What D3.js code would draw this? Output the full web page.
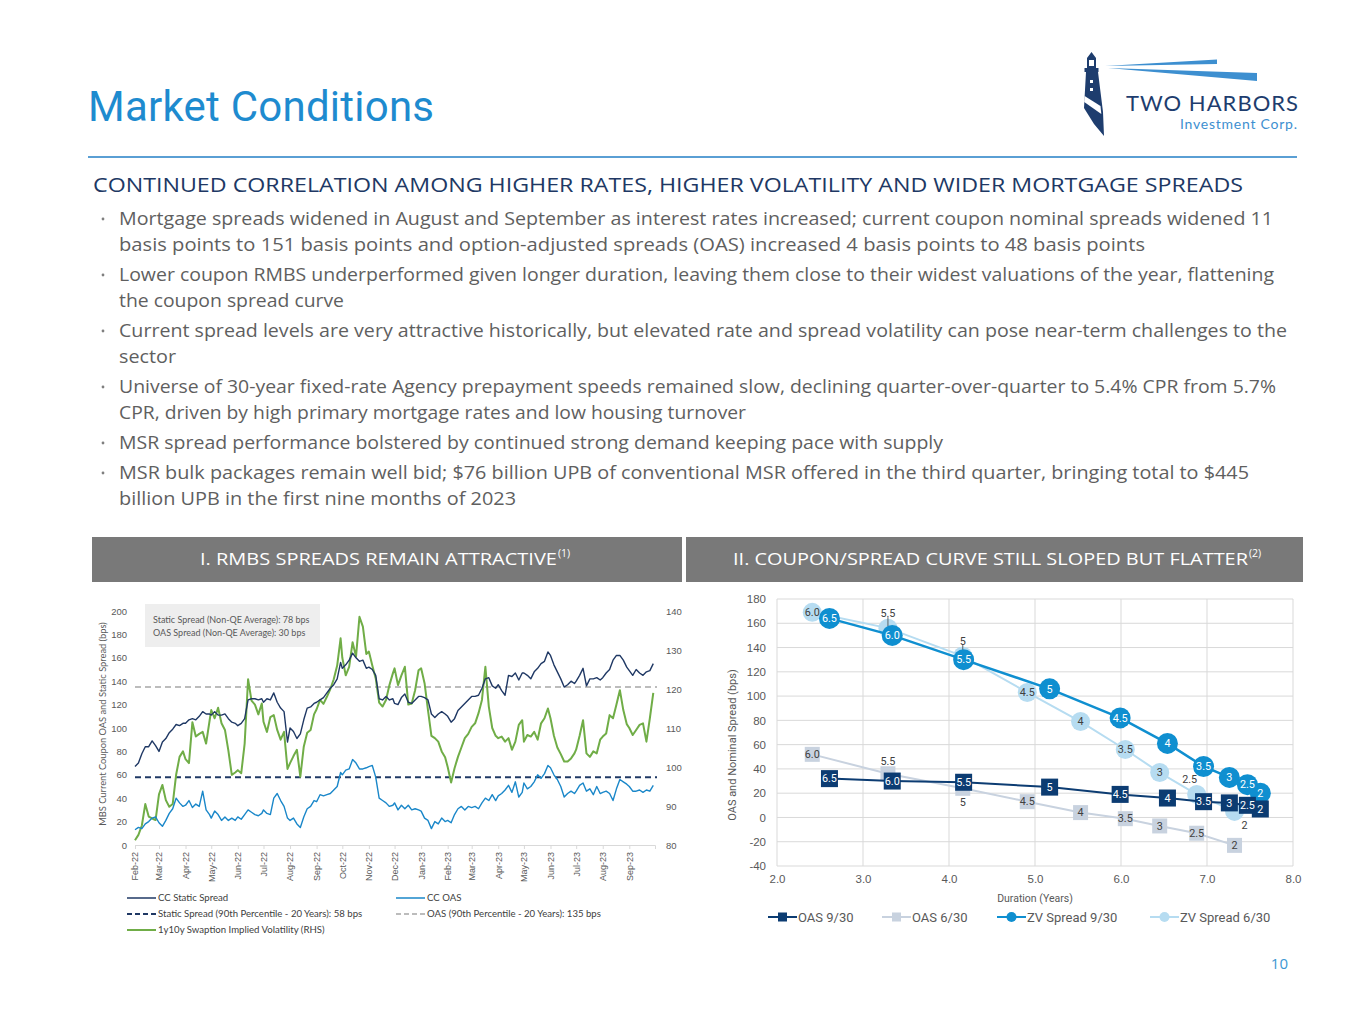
<!DOCTYPE html>
<html>
<head>
<meta charset="utf-8">
<script src="https://cdn.jsdelivr.net/npm/d3@7/dist/d3.min.js"></script>
<style>
  body { margin: 0; background: #fff; }
  svg { display: block; }
</style>
</head>
<body>
<div id="slide"></div>
<script>
// ---------- left chart data (sampled on days 1,5,9,...,29 of each month) ----------
var months = ["2022-02","2022-03","2022-04","2022-05","2022-06","2022-07","2022-08","2022-09","2022-10","2022-11",
              "2022-12","2023-01","2023-02","2023-03","2023-04","2023-05","2023-06","2023-07","2023-08","2023-09"];
var sampleDays = [1, 5, 9, 13, 17, 21, 25, 29];

var staticSpread = [
  67, 70, 78, 84, 84, 89, 85,
  80, 88, 91, 96, 99, 103, 102, 104,
  104, 107, 108, 107, 110, 114, 112, 112,
  111, 114, 111, 111, 112, 108, 105, 104,
  102, 104, 108, 124, 125, 125, 124, 125,
  122, 125, 124, 130, 122, 117, 114, 88,
  100, 97, 91, 95, 107, 117, 118, 121,
  122, 124, 126, 130, 134, 137, 142, 156,
  151, 154, 158, 164, 160, 157, 158, 151,
  152, 150, 145, 125, 124, 127, 124, 125,
  121, 120, 126, 129, 122, 121, 124, 127,
  127, 126, 124, 112, 109, 112, 114, 112,
  110, 105, 108, 115, 118, 121, 124,
  127, 127, 128, 134, 142, 143, 136, 134,
  137, 132, 128, 145, 144, 147, 141, 147,
  147, 145, 142, 148, 151, 155, 157, 165,
  162, 154, 148, 142, 135, 137, 140, 138,
  140, 145, 151, 136, 142, 142, 143, 141,
  143, 147, 150, 158, 162, 162, 158, 152,
  149, 145, 150, 147, 145, 148, 149, 155
];
var ccOas = [
  13, 15, 14, 18, 20, 23, 24,
  19, 16, 21, 27, 31, 40, 36, 33,
  34, 38, 32, 35, 33, 46, 30, 26,
  23, 29, 26, 21, 24, 21, 23, 21,
  24, 22, 26, 30, 28, 26, 25, 27,
  30, 27, 26, 40, 44, 38, 33, 23,
  21, 23, 18, 15, 24, 31, 33, 38,
  37, 43, 42, 43, 44, 47, 50, 62,
  60, 64, 65, 73, 70, 65, 65, 66,
  67, 68, 58, 40, 38, 36, 33, 34,
  36, 30, 34, 31, 34, 30, 31, 30,
  29, 23, 21, 14, 20, 18, 23, 20,
  21, 19, 26, 31, 33, 30, 33,
  32, 33, 31, 36, 40, 38, 43, 38,
  42, 44, 47, 51, 45, 54, 41, 45,
  53, 48, 50, 54, 60, 57, 61, 68,
  66, 60, 56, 50, 41, 44, 46, 44,
  46, 51, 53, 46, 48, 43, 50, 44,
  45, 46, 44, 38, 48, 56, 54, 52,
  50, 46, 46, 47, 45, 47, 46, 51
];
var swaptionVol = [
  81.2, 82.6, 85, 90.5, 87.3, 86.8, 86.4,
  93, 95.4, 91.5, 89.8, 90.5, 98, 102.6, 104,
  102, 101, 111.5, 107.8, 108.5, 109, 106, 111.8,
  114.6, 112.5, 115.2, 111.2, 109.5, 104.2, 98, 98.6,
  99.2, 98.4, 106, 122.5, 117, 116, 113.5, 116.3,
  111.6, 109, 112.8, 113.3, 109.5, 107, 109, 99.5,
  101, 102.8, 104.4, 97.5, 105.2, 108.8, 109.5, 113.5,
  114.8, 117.2, 116.2, 118, 120, 122.5, 126, 133,
  128, 123.5, 125.7, 132, 128.3, 138.5, 136, 129,
  129.6, 126, 122.7, 116.5, 115.5, 117.2, 121, 124,
  125.3, 121, 123.5, 125.7, 116, 116.3, 119.7, 124.8,
  125.3, 121.5, 114.6, 108, 107.4, 106.5, 104, 102.5,
  100, 96, 99.7, 102.6, 105, 107.4, 108.5,
  110.3, 111.2, 113.8, 117.2, 125.7, 115.5, 110, 108,
  107.4, 107.8, 106.5, 107.4, 104.4, 106.5, 110.8, 112,
  106.5, 108.2, 107.8, 109, 107, 111.2, 112.5, 115,
  112.5, 108, 105, 103.3, 101.4, 101.4, 102.2, 103.5,
  104.5, 108, 112, 103.5, 102.6, 104, 103.5, 107,
  107.8, 108.6, 113.3, 112.5, 116, 119.7, 114.6, 111,
  110, 108.2, 109.5, 110.8, 111.2, 106.5, 112.5, 119
];
var staticP90 = 58;
var oasP90 = 135;
var leftTicks = [0, 20, 40, 60, 80, 100, 120, 140, 160, 180, 200];
var rightTicks = [80, 90, 100, 110, 120, 130, 140];

// ---------- right chart data ----------
var coupons930 = ["6.5", "6.0", "5.5", "5", "4.5", "4", "3.5", "3", "2.5", "2"];
var dur930 = [2.61, 3.34, 4.17, 5.17, 5.99, 6.54, 6.96, 7.26, 7.47, 7.62];
var zv930 = [164, 150, 130, 106, 82, 61, 42, 33, 27, 20];
var oas930 = [32, 30, 29, 25, 19, 16, 13, 12, 10, 7];
var coupons630 = ["6.0", "5.5", "5", "4.5", "4", "3.5", "3", "2.5", "2"];
var dur630 = [2.41, 3.29, 4.16, 4.91, 5.53, 6.05, 6.45, 6.88, 7.32];
var zv630 = [169, 156, 133, 103, 79, 56, 37, 19, 5];
var oas630 = [52, 36, 24, 13, 4, -1, -7, -13, -23];
var spreadTicks = [-40, -20, 0, 20, 40, 60, 80, 100, 120, 140, 160, 180];
var durationTicks = [2, 3, 4, 5, 6, 7, 8];

// ---------- slide text ----------
var bullets = [
  ["Mortgage spreads widened in August and September as interest rates increased; current coupon nominal spreads widened 11",
   "basis points to 151 basis points and option-adjusted spreads (OAS) increased 4 basis points to 48 basis points"],
  ["Lower coupon RMBS underperformed given longer duration, leaving them close to their widest valuations of the year, flattening",
   "the coupon spread curve"],
  ["Current spread levels are very attractive historically, but elevated rate and spread volatility can pose near-term challenges to the",
   "sector"],
  ["Universe of 30-year fixed-rate Agency prepayment speeds remained slow, declining quarter-over-quarter to 5.4% CPR from 5.7%",
   "CPR, driven by high primary mortgage rates and low housing turnover"],
  ["MSR spread performance bolstered by continued strong demand keeping pace with supply"],
  ["MSR bulk packages remain well bid; $76 billion UPB of conventional MSR offered in the third quarter, bringing total to $445",
   "billion UPB in the first nine months of 2023"]
];
var lineWidths = [[1154, 1026], [1155, 225], [1168, 57], [1157, 627], [824], [1130, 397]];
var bulletTops = [225, 281, 337, 393, 449, 479];

var bodyFont = "'Open Sans', 'Noto Sans', sans-serif";

var svg = d3.select("#slide").append("svg")
    .attr("width", 1365)
    .attr("height", 1024)
    .style("font-family", bodyFont);

// ---------- header ----------
svg.append("text")
    .attr("x", 88).attr("y", 121)
    .attr("font-family", "Roboto, sans-serif")
    .attr("font-size", 42)
    .attr("fill", "#1e8bcf")
    .attr("textLength", 346)
    .text("Market Conditions");

svg.append("line")
    .attr("x1", 88).attr("x2", 1297).attr("y1", 157).attr("y2", 157)
    .attr("stroke", "#5a9fd4").attr("stroke-width", 2);

svg.append("text")
    .attr("x", 93).attr("y", 192)
    .attr("font-size", 19.5)
    .attr("fill", "#203864")
    .attr("textLength", 1150)
    .attr("lengthAdjust", "spacingAndGlyphs")
    .text("CONTINUED CORRELATION AMONG HIGHER RATES, HIGHER VOLATILITY AND WIDER MORTGAGE SPREADS");

// logo
var logo = svg.append("g");
logo.append("path")
    .attr("d", "M1105,66 L1217,59.5 L1217,64 Z")
    .attr("fill", "#3d8fd0");
logo.append("path")
    .attr("d", "M1108,68 L1257,73 L1257,81 Z")
    .attr("fill", "#3d8fd0");
logo.append("path")
    .attr("d", "M1091.5,52 L1096,58 L1087,58 Z M1087,58 L1096,58 L1096,68 L1087,68 Z M1084.5,68 L1098.5,68 L1098.5,72 L1084.5,72 Z M1086,72 L1098,72 L1103,112 L1104,136 L1094,124 L1084,108 Z")
    .attr("fill", "#1e3d6e");
logo.append("path")
    .attr("d", "M1084.6,96 L1100.5,106 L1101.3,114 L1084.2,102 Z")
    .attr("fill", "#fff");
logo.append("rect").attr("x", 1089).attr("y", 60).attr("width", 5).attr("height", 6).attr("fill", "#fff");
logo.append("rect").attr("x", 1090).attr("y", 80).attr("width", 3).attr("height", 3).attr("fill", "#fff");
logo.append("rect").attr("x", 1090).attr("y", 88).attr("width", 3).attr("height", 3).attr("fill", "#fff");
logo.append("text")
    .attr("x", 1126).attr("y", 111)
    .attr("font-family", "Lato, sans-serif")
    .attr("font-size", 22)
    .attr("fill", "#1e3d6e")
    .attr("textLength", 172)
    .attr("lengthAdjust", "spacing")
    .text("TWO HARBORS");
logo.append("text")
    .attr("x", 1180).attr("y", 129)
    .attr("font-family", "Lato, sans-serif")
    .attr("font-size", 14)
    .attr("fill", "#3d8fd0")
    .attr("textLength", 117)
    .attr("lengthAdjust", "spacing")
    .text("Investment Corp.");

// bullets
bullets.forEach(function(lines, i) {
  svg.append("circle")
      .attr("cx", 103).attr("cy", bulletTops[i] - 6).attr("r", 1.4)
      .attr("fill", "#7f7f7f");
  lines.forEach(function(line, j) {
    svg.append("text")
        .attr("x", 119).attr("y", bulletTops[i] + j * 26)
        .attr("font-size", 17.5)
        .attr("fill", "#5f5f5f")
        .attr("textLength", lineWidths[i][j])
        .attr("lengthAdjust", "spacingAndGlyphs")
        .text(line);
  });
});

// panel headers
function panelHeader(x, w, label, sup, textX, textW) {
  svg.append("rect").attr("x", x).attr("y", 537).attr("width", w).attr("height", 45).attr("fill", "#797979");
  var t = svg.append("text").attr("x", textX).attr("y", 565).attr("font-size", 15.5).attr("fill", "#fff");
  t.append("tspan").attr("textLength", textW).attr("lengthAdjust", "spacingAndGlyphs").text(label);
  t.append("tspan").attr("font-size", 10.5).attr("dy", -8).attr("dx", 1).text(sup);
}
panelHeader(92, 590, "I. RMBS SPREADS REMAIN ATTRACTIVE", "(1)", 200, 357);
panelHeader(686, 617, "II. COUPON/SPREAD CURVE STILL SLOPED BUT FLATTER", "(2)", 733, 515);

// page number
svg.append("text").attr("x", 1288).attr("y", 969).attr("text-anchor", "end")
    .attr("font-size", 15).attr("fill", "#3c97d3").text("10");

// ---------- left chart ----------
var parseDay = d3.timeParse("%Y-%m-%d");
var dates = [];
months.forEach(function(m) {
  sampleDays.forEach(function(d) {
    if (m.slice(5) === "02" && d > 28) return;
    dates.push(parseDay(m + "-" + (d < 10 ? "0" + d : d)));
  });
});
var monthStarts = months.map(function(m) { return parseDay(m + "-01"); });

var left = svg.append("g").style("font-family", "Lato, 'Open Sans', sans-serif");

var xL = d3.scaleTime()
    .domain([parseDay("2022-02-01"), parseDay("2023-10-01")])
    .range([135, 655]);
var yL = d3.scaleLinear().domain([0, 200]).range([845, 611]);
var yR = d3.scaleLinear().domain([80, 140]).range([845, 611]);

var gyl = left.append("g").attr("transform", "translate(131,0)")
    .call(d3.axisLeft(yL).tickValues(leftTicks).tickSize(0).tickPadding(4));
gyl.select(".domain").remove();
gyl.selectAll("text").attr("font-size", 9.5).attr("fill", "#595959");

var gyr = left.append("g").attr("transform", "translate(661,0)")
    .call(d3.axisRight(yR).tickValues(rightTicks).tickSize(0).tickPadding(5));
gyr.select(".domain").remove();
gyr.selectAll("text").attr("font-size", 9.5).attr("fill", "#595959");

var gxl = left.append("g").attr("transform", "translate(0,845)")
    .call(d3.axisBottom(xL).tickValues(monthStarts).tickSize(4).tickSizeOuter(4)
      .tickFormat(d3.timeFormat("%b-%y")));
gxl.select(".domain").attr("stroke", "#d9d9d9");
gxl.selectAll("line").attr("stroke", "#d9d9d9");
gxl.selectAll("text")
    .attr("transform", "rotate(-90)")
    .attr("text-anchor", "end")
    .attr("x", -7).attr("y", 0).attr("dy", "0.32em")
    .attr("font-size", 9).attr("fill", "#595959");

left.append("text")
    .attr("transform", "translate(106,724) rotate(-90)")
    .attr("text-anchor", "middle")
    .attr("font-size", 9.3).attr("fill", "#595959")
    .text("MBS Current Coupon OAS and Static Spread (bps)");

left.append("rect").attr("x", 145).attr("y", 604).attr("width", 175).attr("height", 43).attr("fill", "#eeeeee");
left.append("text").attr("x", 153).attr("y", 623).attr("font-size", 9).attr("fill", "#595959")
    .text("Static Spread (Non-QE Average): 78 bps");
left.append("text").attr("x", 153).attr("y", 636).attr("font-size", 9).attr("fill", "#595959")
    .text("OAS Spread (Non-QE Average): 30 bps");

// percentile lines
left.append("line")
    .attr("x1", xL.range()[0]).attr("x2", xL.range()[1] + 2)
    .attr("y1", yL(oasP90)).attr("y2", yL(oasP90))
    .attr("stroke", "#a6a6a6").attr("stroke-width", 1.5).attr("stroke-dasharray", "6,4");
left.append("line")
    .attr("x1", xL.range()[0]).attr("x2", xL.range()[1] + 2)
    .attr("y1", yL(staticP90)).attr("y2", yL(staticP90))
    .attr("stroke", "#1f3864").attr("stroke-width", 2).attr("stroke-dasharray", "6,4");

var lineLeft = d3.line()
    .x(function(d, i) { return xL(dates[i]); })
    .y(function(d) { return yL(d); });
var lineRight = d3.line()
    .x(function(d, i) { return xL(dates[i]); })
    .y(function(d) { return yR(d); });

left.append("path").attr("d", lineRight(swaptionVol))
    .attr("fill", "none").attr("stroke", "#70ad47").attr("stroke-width", 2).attr("stroke-linejoin", "round");
left.append("path").attr("d", lineLeft(staticSpread))
    .attr("fill", "none").attr("stroke", "#1f3864").attr("stroke-width", 1.4).attr("stroke-linejoin", "round");
left.append("path").attr("d", lineLeft(ccOas))
    .attr("fill", "none").attr("stroke", "#1a87c9").attr("stroke-width", 1.4).attr("stroke-linejoin", "round");

// legend
var leftLegend = [
  { label: "CC Static Spread", color: "#1f3864", dash: null, w: 1.5, x: 127, y: 898 },
  { label: "CC OAS", color: "#1a87c9", dash: null, w: 1.5, x: 396, y: 898 },
  { label: "Static Spread (90th Percentile - 20 Years): 58 bps", color: "#1f3864", dash: "5,3", w: 2, x: 127, y: 914 },
  { label: "OAS (90th Percentile - 20 Years): 135 bps", color: "#a6a6a6", dash: "5,3", w: 1.5, x: 396, y: 914 },
  { label: "1y10y Swaption Implied Volatility (RHS)", color: "#70ad47", dash: null, w: 2, x: 127, y: 930 }
];
var lg = left.selectAll("g.lleg").data(leftLegend).enter().append("g").attr("class", "lleg")
    .attr("transform", function(d) { return "translate(" + d.x + "," + d.y + ")"; });
lg.append("line").attr("x1", 0).attr("x2", 29).attr("y1", 0).attr("y2", 0)
    .attr("stroke", function(d) { return d.color; })
    .attr("stroke-width", function(d) { return d.w; })
    .attr("stroke-dasharray", function(d) { return d.dash; });
lg.append("text").attr("x", 31).attr("y", 3.3).attr("font-size", 9.6).attr("fill", "#404040")
    .text(function(d) { return d.label; });

// ---------- right chart ----------
var right = svg.append("g").style("font-family", "Roboto, sans-serif");
var xS = d3.scaleLinear().domain([2, 8]).range([777, 1293]);
var yS = d3.scaleLinear().domain([-40, 180]).range([866, 599]);

right.selectAll("line.hg").data(spreadTicks).enter().append("line").attr("class", "hg")
    .attr("x1", xS(2)).attr("x2", xS(8))
    .attr("y1", function(d) { return yS(d); }).attr("y2", function(d) { return yS(d); })
    .attr("stroke", "#d9d9d9").attr("stroke-width", 1);
right.selectAll("line.vg").data(durationTicks).enter().append("line").attr("class", "vg")
    .attr("x1", function(d) { return xS(d); }).attr("x2", function(d) { return xS(d); })
    .attr("y1", yS(180)).attr("y2", yS(-40))
    .attr("stroke", "#d9d9d9").attr("stroke-width", 1);

var gys = right.append("g").attr("transform", "translate(" + xS(2) + ",0)")
    .call(d3.axisLeft(yS).tickValues(spreadTicks).tickSize(0).tickPadding(11)
      .tickFormat(function(d) { return String(d); }));
gys.select(".domain").remove();
gys.selectAll("text").attr("font-size", 11.5).attr("fill", "#595959");

var gxs = right.append("g").attr("transform", "translate(0," + yS(-40) + ")")
    .call(d3.axisBottom(xS).tickValues(durationTicks).tickFormat(d3.format(".1f")).tickSize(0).tickPadding(9));
gxs.select(".domain").remove();
gxs.selectAll("text").attr("font-size", 11.5).attr("fill", "#595959");

right.append("text").attr("x", 1035).attr("y", 902).attr("text-anchor", "middle")
    .attr("font-size", 10.5).attr("fill", "#595959").text("Duration (Years)");
right.append("text")
    .attr("transform", "translate(736,745) rotate(-90)")
    .attr("text-anchor", "middle")
    .attr("font-size", 11).attr("fill", "#595959")
    .text("OAS and Nominal Spread (bps)");

var series = [
  { name: "OAS 6/30", dur: dur630, val: oas630, labels: coupons630, color: "#c8d2df", shape: "square", size: 15, lw: 2, text: "#404040" },
  { name: "ZV Spread 6/30", dur: dur630, val: zv630, labels: coupons630, color: "#b6dcf1", shape: "circle", size: 19, lw: 2, text: "#404040" },
  { name: "ZV Spread 9/30", dur: dur930, val: zv930, labels: coupons930, color: "#0f8fd0", shape: "circle", size: 21, lw: 2.5, text: "#ffffff" },
  { name: "OAS 9/30", dur: dur930, val: oas930, labels: coupons930, color: "#0c3c72", shape: "square", size: 17, lw: 2, text: "#ffffff" }
];
// labels that sit outside their marker
var labelShift = {
  "ZV Spread 6/30": { "5.5": [0, -15, true], "5": [0, -15, true], "2.5": [-7, -15], "2": [10, 14] },
  "OAS 6/30": { "5.5": [0, -13], "5": [0, 14] }
};

var lineS = d3.line();
series.forEach(function(s) {
  var pts = s.dur.map(function(d, i) { return [xS(d), yS(s.val[i])]; });
  var g = right.append("g");
  g.append("path").attr("d", lineS(pts))
      .attr("fill", "none").attr("stroke", s.color).attr("stroke-width", s.lw);
  pts.forEach(function(p, i) {
    if (s.shape === "circle") {
      g.append("circle").attr("cx", p[0]).attr("cy", p[1]).attr("r", s.size / 2).attr("fill", s.color);
    } else {
      g.append("rect").attr("x", p[0] - s.size / 2).attr("y", p[1] - s.size / 2)
          .attr("width", s.size).attr("height", s.size).attr("fill", s.color);
    }
  });
  pts.forEach(function(p, i) {
    var lab = s.labels[i];
    var shift = (labelShift[s.name] || {})[lab];
    var dx = shift ? shift[0] : 0, dy = shift ? shift[1] : 0;
    if (shift && shift[2]) {
      g.append("line").attr("x1", p[0]).attr("x2", p[0]).attr("y1", p[1] + dy + 4).attr("y2", p[1] - 2)
          .attr("stroke", "#404040").attr("stroke-width", 0.8);
    }
    g.append("text")
        .attr("x", p[0] + dx).attr("y", p[1] + dy).attr("dy", "0.35em")
        .attr("text-anchor", "middle")
        .attr("font-size", 10.8)
        .attr("fill", shift ? "#404040" : s.text)
        .text(lab);
  });
});

// legend
var rightLegend = [
  { name: "OAS 9/30", color: "#0c3c72", shape: "square", x: 768 },
  { name: "OAS 6/30", color: "#c8d2df", shape: "square", x: 882 },
  { name: "ZV Spread 9/30", color: "#0f8fd0", shape: "circle", x: 997 },
  { name: "ZV Spread 6/30", color: "#b6dcf1", shape: "circle", x: 1150 }
];
var rl = right.selectAll("g.rleg").data(rightLegend).enter().append("g").attr("class", "rleg")
    .attr("transform", function(d) { return "translate(" + d.x + ",917)"; });
rl.append("line").attr("x1", 0).attr("x2", 29).attr("y1", 0).attr("y2", 0)
    .attr("stroke", function(d) { return d.color; }).attr("stroke-width", 2);
rl.filter(function(d) { return d.shape === "square"; }).append("rect")
    .attr("x", 10).attr("y", -4.5).attr("width", 9).attr("height", 9)
    .attr("fill", function(d) { return d.color; });
rl.filter(function(d) { return d.shape === "circle"; }).append("circle")
    .attr("cx", 14.5).attr("cy", 0).attr("r", 5)
    .attr("fill", function(d) { return d.color; });
rl.append("text").attr("x", 30).attr("y", 4.5).attr("font-size", 13).attr("fill", "#595959")
    .text(function(d) { return d.name; });
</script>
</body>
</html>
